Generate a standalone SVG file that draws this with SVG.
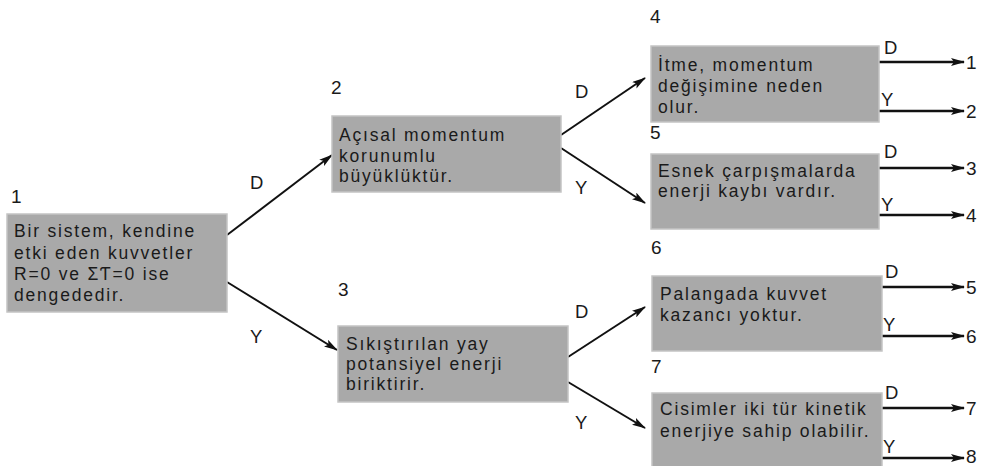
<svg xmlns="http://www.w3.org/2000/svg" width="981" height="466" viewBox="0 0 981 466">
<style>
.box{fill:#a9a9a9;stroke:#c4c4c4;stroke-width:1.5}
.t{font-family:"Liberation Sans",Arial,sans-serif;font-size:17.5px;fill:#1a1a1a;letter-spacing:1.8px}
.n{font-family:"Liberation Sans",Arial,sans-serif;font-size:19px;fill:#1a1a1a}
.l{font-family:"Liberation Sans",Arial,sans-serif;font-size:18.5px;fill:#1a1a1a}
.c{stroke:#111;stroke-width:2;fill:none;marker-end:url(#ah)}
.h{stroke:#111;stroke-width:2.6;fill:none;marker-end:url(#ah)}
</style>
<defs>
<marker id="ah" viewBox="0 0 14 8" refX="13" refY="4" markerWidth="14" markerHeight="8" markerUnits="userSpaceOnUse" orient="auto">
<path d="M0,0 L14,4 L0,8 L3,4 Z" fill="#111"/>
</marker>
</defs>
<rect width="981" height="466" fill="#ffffff"/>

<g id="connectors">
<line class="c" x1="227" y1="235" x2="332" y2="155"/>
<line class="c" x1="227" y1="282" x2="337" y2="350"/>
<line class="c" x1="561" y1="135" x2="645" y2="78"/>
<line class="c" x1="561" y1="148" x2="645" y2="203"/>
<line class="c" x1="568" y1="357" x2="645" y2="307"/>
<line class="c" x1="568" y1="382" x2="645" y2="428"/>
<line class="h" x1="879" y1="62" x2="964" y2="62"/>
<line class="h" x1="879" y1="111" x2="964" y2="111"/>
<line class="h" x1="879" y1="168" x2="964" y2="168"/>
<line class="h" x1="879" y1="215" x2="964" y2="215"/>
<line class="h" x1="882" y1="287" x2="964" y2="287"/>
<line class="h" x1="882" y1="336" x2="964" y2="336"/>
<line class="h" x1="882" y1="408" x2="964" y2="408"/>
<line class="h" x1="882" y1="458" x2="964" y2="458"/>
<text class="l" x="250" y="189">D</text>
<text class="l" x="250" y="343">Y</text>
<text class="l" x="575" y="98">D</text>
<text class="l" x="575" y="194">Y</text>
<text class="l" x="575" y="318">D</text>
<text class="l" x="575" y="429">Y</text>
<text class="l" x="884" y="54">D</text>
<text class="l" x="881" y="106">Y</text>
<text class="l" x="884" y="158">D</text>
<text class="l" x="881" y="211">Y</text>
<text class="l" x="885" y="278">D</text>
<text class="l" x="883" y="331">Y</text>
<text class="l" x="885" y="399">D</text>
<text class="l" x="883" y="453">Y</text>
<text class="n" x="966" y="69">1</text>
<text class="n" x="966" y="118">2</text>
<text class="n" x="966" y="175">3</text>
<text class="n" x="966" y="222">4</text>
<text class="n" x="966" y="294">5</text>
<text class="n" x="966" y="343">6</text>
<text class="n" x="966" y="415">7</text>
<text class="n" x="966" y="463">8</text>
</g>

<g id="node1">
<text class="n" x="11" y="203">1</text>
<rect class="box" x="7" y="214" width="220" height="98"/>
<text class="t" x="14" y="237">Bir sistem, kendine</text>
<text class="t" x="14" y="259">etki eden kuvvetler</text>
<text class="t" x="14" y="280">R=0 ve ΣƬ=0 ise</text>
<text class="t" x="14" y="301">dengededir.</text>
</g>

<g id="node2">
<text class="n" x="331" y="94">2</text>
<rect class="box" x="332" y="116" width="229" height="76"/>
<text class="t" x="339" y="141">Açısal momentum</text>
<text class="t" x="339" y="162">korunumlu</text>
<text class="t" x="339" y="182">büyüklüktür.</text>
</g>

<g id="node3">
<text class="n" x="338" y="296">3</text>
<rect class="box" x="338" y="326" width="230" height="76"/>
<text class="t" x="346" y="350">Sıkıştırılan yay</text>
<text class="t" x="346" y="370">potansiyel enerji</text>
<text class="t" x="346" y="390">biriktirir.</text>
</g>

<g id="node4">
<text class="n" x="650" y="23">4</text>
<rect class="box" x="651" y="46" width="228" height="76"/>
<text class="t" x="658" y="71">İtme, momentum</text>
<text class="t" x="658" y="92">değişimine neden</text>
<text class="t" x="658" y="113">olur.</text>
</g>

<g id="node5">
<text class="n" x="650" y="139">5</text>
<rect class="box" x="651" y="154" width="228" height="75"/>
<text class="t" x="658" y="177">Esnek çarpışmalarda</text>
<text class="t" x="658" y="197">enerji kaybı vardır.</text>
</g>

<g id="node6">
<text class="n" x="651" y="254">6</text>
<rect class="box" x="652" y="276" width="230" height="75"/>
<text class="t" x="660" y="300">Palangada kuvvet</text>
<text class="t" x="660" y="321">kazancı yoktur.</text>
</g>

<g id="node7">
<text class="n" x="651" y="373">7</text>
<rect class="box" x="652" y="393" width="230" height="76"/>
<text class="t" x="660" y="415">Cisimler iki tür kinetik</text>
<text class="t" x="660" y="437">enerjiye sahip olabilir.</text>
</g>
</svg>
